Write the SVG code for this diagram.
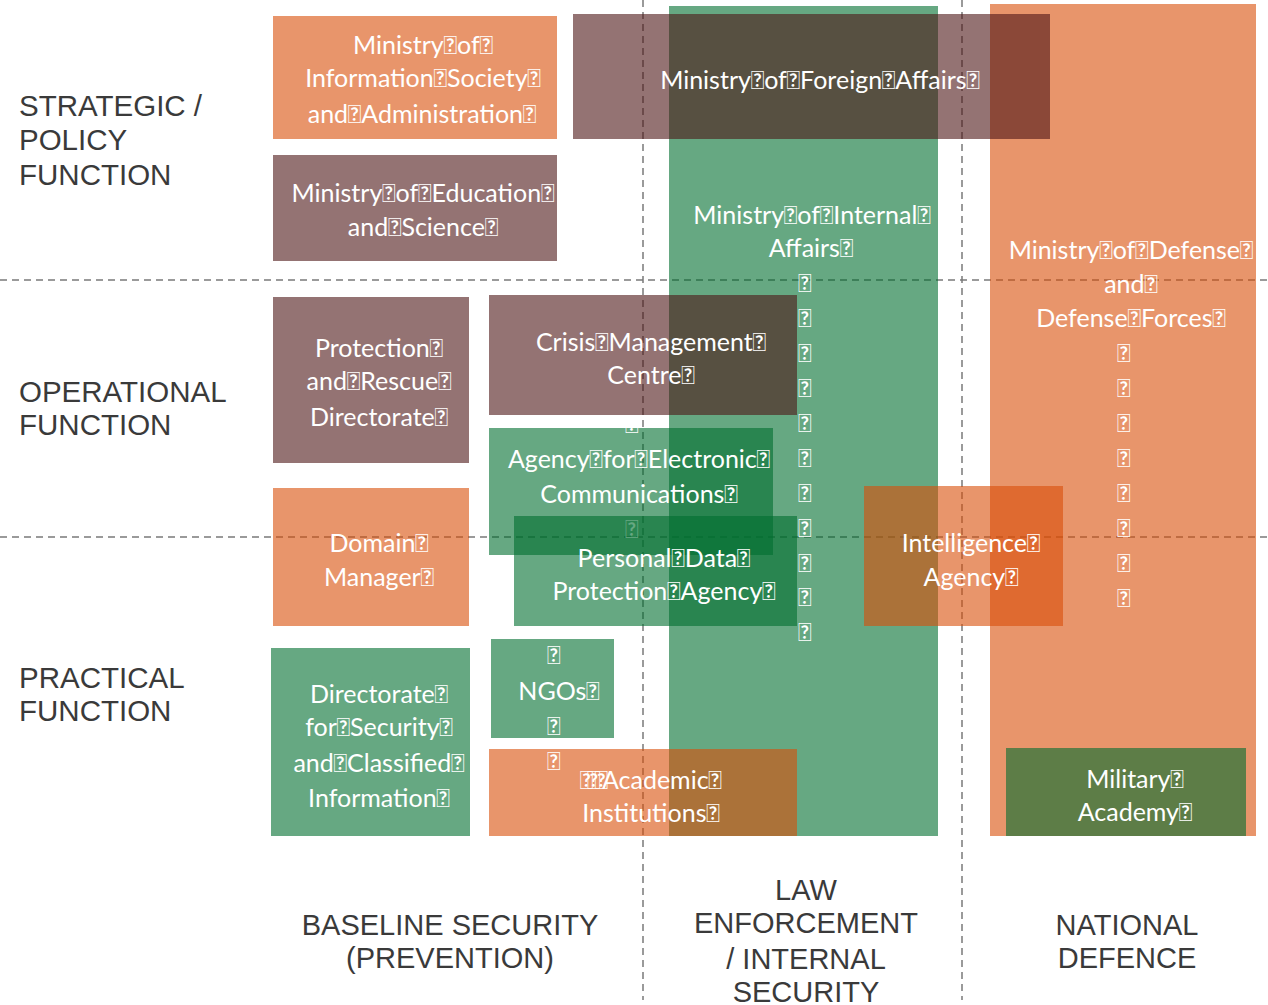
<svg xmlns="http://www.w3.org/2000/svg" width="1268" height="1005" viewBox="0 0 1268 1005">
<style>
.dash{stroke:#7a7a7a;stroke-width:1.5;stroke-dasharray:7,5;fill:none}
.o{fill:#D94E08;fill-opacity:0.6}
.g{fill:#006E2F;fill-opacity:0.6}
.m{fill:#4D1616;fill-opacity:0.6}
.t{font-family:Lato,"DejaVu Sans",sans-serif;font-size:25px;fill:#fff;text-anchor:middle}
.lab{font-family:"Liberation Sans",Arial,sans-serif;font-size:29.5px;fill:#3a3a3a}
.labc{font-family:"Liberation Sans",Arial,sans-serif;font-size:29px;fill:#3a3a3a;text-anchor:middle}
</style>
<defs>
<clipPath id="clipAgency"><rect x="489" y="428" width="284" height="127"/></clipPath>
</defs>
<g id="connectors">
<line class="dash" x1="0" y1="280" x2="1268" y2="280"/>
<line class="dash" x1="0" y1="537" x2="1268" y2="537"/>
<line class="dash" x1="643" y1="0" x2="643" y2="1000"/>
<line class="dash" x1="962" y1="0" x2="962" y2="1000"/>
</g>
<g id="labels">
<text class="lab" x="19" y="116">STRATEGIC /</text>
<text class="lab" x="19" y="150">POLICY</text>
<text class="lab" x="19" y="185">FUNCTION</text>
<text class="lab" x="19" y="402">OPERATIONAL</text>
<text class="lab" x="19" y="435">FUNCTION</text>
<text class="lab" x="19" y="688">PRACTICAL</text>
<text class="lab" x="19" y="721">FUNCTION</text>
<text class="labc" x="450" y="935">BASELINE SECURITY</text>
<text class="labc" x="450" y="968">(PREVENTION)</text>
<text class="labc" x="806" y="900">LAW</text>
<text class="labc" x="806" y="933">ENFORCEMENT</text>
<text class="labc" x="806" y="969">/ INTERNAL</text>
<text class="labc" x="806" y="1002">SECURITY</text>
<text class="labc" x="1127" y="935">NATIONAL</text>
<text class="labc" x="1127" y="968">DEFENCE</text>
</g>
<g id="internal-affairs">
<rect class="g" x="669" y="6" width="269" height="830"/>
<text class="t" x="812" y="224">Ministry&#xE000;of&#xE000;Internal&#xE000;</text>
<text class="t" x="811" y="257">Affairs&#xE000;</text>
<text class="t" x="805" y="292">&#xE000;</text>
<text class="t" x="805" y="327">&#xE000;</text>
<text class="t" x="805" y="362">&#xE000;</text>
<text class="t" x="805" y="397">&#xE000;</text>
<text class="t" x="805" y="432">&#xE000;</text>
<text class="t" x="805" y="467">&#xE000;</text>
<text class="t" x="805" y="502">&#xE000;</text>
<text class="t" x="805" y="537">&#xE000;</text>
<text class="t" x="805" y="572">&#xE000;</text>
<text class="t" x="805" y="606">&#xE000;</text>
<text class="t" x="805" y="641">&#xE000;</text>
</g>
<g id="defense">
<rect class="o" x="990" y="4" width="266" height="832"/>
<text class="t" x="1131" y="259">Ministry&#xE000;of&#xE000;Defense&#xE000;</text>
<text class="t" x="1131" y="293">and&#xE000;</text>
<text class="t" x="1131" y="327">Defense&#xE000;Forces&#xE000;</text>
<text class="t" x="1124" y="362">&#xE000;</text>
<text class="t" x="1124" y="397">&#xE000;</text>
<text class="t" x="1124" y="432">&#xE000;</text>
<text class="t" x="1124" y="467">&#xE000;</text>
<text class="t" x="1124" y="502">&#xE000;</text>
<text class="t" x="1124" y="537">&#xE000;</text>
<text class="t" x="1124" y="572">&#xE000;</text>
<text class="t" x="1124" y="607">&#xE000;</text>
</g>
<g id="info-society">
<rect class="o" x="273" y="16" width="284" height="123"/>
<text class="t" x="423" y="54">Ministry&#xE000;of&#xE000;</text>
<text class="t" x="423" y="87">Information&#xE000;Society&#xE000;</text>
<text class="t" x="422" y="123">and&#xE000;Administration&#xE000;</text>
</g>
<g id="education">
<rect class="m" x="273" y="155" width="284" height="106"/>
<text class="t" x="423" y="202">Ministry&#xE000;of&#xE000;Education&#xE000;</text>
<text class="t" x="423" y="236">and&#xE000;Science&#xE000;</text>
</g>
<g id="foreign-affairs">
<rect class="m" x="573" y="14" width="477" height="125"/>
<text class="t" x="820" y="89">Ministry&#xE000;of&#xE000;Foreign&#xE000;Affairs&#xE000;</text>
</g>
<g id="protection-rescue">
<rect class="m" x="273" y="297" width="196" height="166"/>
<text class="t" x="379" y="357">Protection&#xE000;</text>
<text class="t" x="379" y="390">and&#xE000;Rescue&#xE000;</text>
<text class="t" x="379" y="426">Directorate&#xE000;</text>
</g>
<g id="crisis">
<rect class="m" x="489" y="295" width="308" height="120"/>
<text class="t" x="651" y="351">Crisis&#xE000;Management&#xE000;</text>
<text class="t" x="651" y="384">Centre&#xE000;</text>
</g>
<g id="electronic-comm">
<rect class="g" x="489" y="428" width="284" height="127"/>
<g clip-path="url(#clipAgency)">
<text class="t" x="632" y="433">&#xE000;</text>
</g>
<text class="t" x="639" y="468">Agency&#xE000;for&#xE000;Electronic&#xE000;</text>
<text class="t" x="639" y="503">Communications&#xE000;</text>
<text class="t" x="632" y="538">&#xE000;</text>
</g>
<g id="personal-data">
<rect class="g" x="514" y="516" width="283" height="110"/>
<text class="t" x="664" y="567">Personal&#xE000;Data&#xE000;</text>
<text class="t" x="664" y="600">Protection&#xE000;Agency&#xE000;</text>
</g>
<g id="domain-manager">
<rect class="o" x="273" y="488" width="196" height="138"/>
<text class="t" x="379" y="552">Domain&#xE000;</text>
<text class="t" x="379" y="586">Manager&#xE000;</text>
</g>
<g id="intelligence">
<rect class="o" x="864" y="486" width="199" height="140"/>
<text class="t" x="971" y="552">Intelligence&#xE000;</text>
<text class="t" x="971" y="586">Agency&#xE000;</text>
</g>
<g id="dsci">
<rect class="g" x="271" y="648" width="199" height="188"/>
<text class="t" x="379" y="703">Directorate&#xE000;</text>
<text class="t" x="379" y="736">for&#xE000;Security&#xE000;</text>
<text class="t" x="379" y="772">and&#xE000;Classified&#xE000;</text>
<text class="t" x="379" y="807">Information&#xE000;</text>
</g>
<g id="academic">
<rect class="o" x="489" y="749" width="308" height="87"/>
<text class="t" x="651" y="789"><tspan letter-spacing="-6">&#xE000;&#xE000;&#xE000;</tspan>Academic&#xE000;</text>
<text class="t" x="651" y="822">Institutions&#xE000;</text>
</g>
<g id="ngos">
<rect class="g" x="491" y="639" width="123" height="99"/>
<text class="t" x="554" y="664">&#xE000;</text>
<text class="t" x="559" y="700">NGOs&#xE000;</text>
<text class="t" x="554" y="735">&#xE000;</text>
<text class="t" x="554" y="770">&#xE000;</text>
</g>
<g id="military-academy">
<rect class="g" x="1006" y="748" width="240" height="88"/>
<text class="t" x="1135" y="788">Military&#xE000;</text>
<text class="t" x="1135" y="821">Academy&#xE000;</text>
</g>
</svg>
